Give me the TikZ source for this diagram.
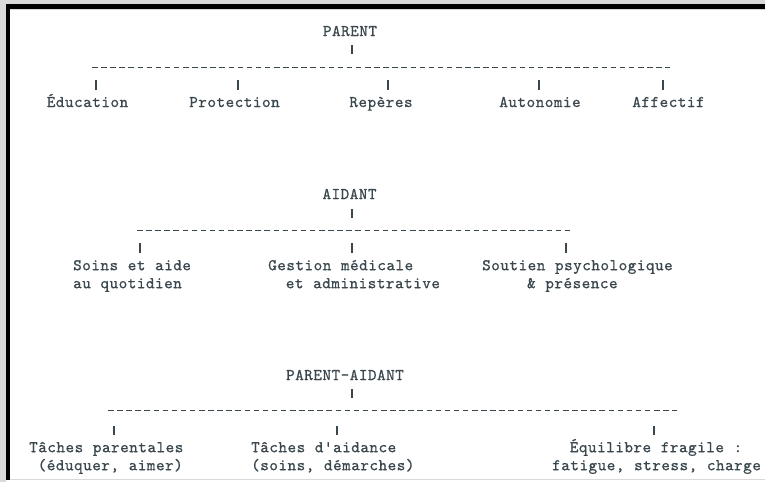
\documentclass[tikz,border=0pt]{standalone}
\usepackage{fontspec}
\newfontfamily\asc{lmmono10-regular.otf}[LetterSpace=3.3,WordSpace=1.063,FakeBold=0.8]
\definecolor{tc}{HTML}{3A474E}
\definecolor{edge}{HTML}{D9D9D9}
\begin{document}
\begin{tikzpicture}[x=1pt,y=1pt,
  lbl/.style={font=\asc\fontsize{16.3}{18}\selectfont, text=tc, inner sep=0pt},
  multi/.style={lbl, align=left, anchor=north west},
  vbar/.style={draw=tc, line width=1.1pt},
  bus/.style={draw=tc, line width=0.9pt, dash pattern=on 5.5pt off 3.6pt}]
\useasboundingbox (0,0) rectangle (765,-482);
% frame
\fill[white] (0,0) rectangle (765,-482);
\fill[edge] (0,0) rectangle (6,-482);
\fill[edge] (0,0) rectangle (765,-4);
\fill[black] (6,-4) rectangle (10,-480);
\fill[black] (6,-4) rectangle (765,-9);
\draw[edge, line width=0.8pt] (10,-9.6) -- (765,-9.6);
\draw[edge, line width=0.8pt] (10,-479) -- (765,-479);

% ---- PARENT ----
\node[lbl, anchor=base] (p) at (350,-36) {PARENT};
\node[lbl, anchor=base] (e1) at (87.5,-107) {Éducation};
\node[lbl, anchor=base] (e2) at (234.5,-107) {Protection};
\node[lbl, anchor=base] (e3) at (381,-107) {Repères};
\node[lbl, anchor=base] (e4) at (540,-107) {Autonomie};
\node[lbl, anchor=base] (e5) at (668.5,-107) {Affectif};
\coordinate (pL) at (92,-67);
\coordinate (pR) at (670,-67);
\draw[vbar] (p.base) ++(2,-9) -- ++(0,-9);
\draw[bus] (pL) -- (pR);
\draw[vbar] (e1.base) ++(8.5,17) -- ++(0,10);
\draw[vbar] (e2.base) ++(3.5,17) -- ++(0,10);
\draw[vbar] (e3.base) ++(7,17) -- ++(0,10);
\draw[vbar] (e4.base) ++(-1,17) -- ++(0,10);
\draw[vbar] (e5.base) ++(-5.5,17) -- ++(0,10);

% ---- AIDANT ----
\node[lbl, anchor=base] (a) at (349.5,-199) {AIDANT};
\node[multi] (s1) at (73,-256) {\rule{0pt}{14pt}Soins et aide\\au quotidien};
\node[multi] (s2) at (268,-256) {\rule{0pt}{14pt}Gestion médicale\\\phantom{xx}et administrative};
\node[multi] (s3) at (482,-256) {\rule{0pt}{14pt}Soutien psychologique\\\phantom{xxxxx}\& présence};
\coordinate (aL) at (137,-230);
\coordinate (aR) at (572,-230);
\draw[vbar] (a.base) ++(2.5,-10) -- ++(0,-9);
\draw[bus] (aL) -- (aR);
\draw[vbar] (s1.north west) ++(67,3) -- ++(0,10);
\draw[vbar] (s2.north west) ++(84,3) -- ++(0,10);
\draw[vbar] (s3.north west) ++(84,3) -- ++(0,10);

% ---- PARENT-AIDANT ----
\node[lbl, anchor=base] (pa) at (345,-380) {PARENT-AIDANT};
\node[multi] (t1) at (29,-438) {\rule{0pt}{14pt}Tâches parentales\\\phantom{x}(éduquer, aimer)};
\node[multi] (t2) at (251,-438) {\rule{0pt}{14pt}Tâches d'aidance\\(soins, démarches)};
\node[multi] (t3) at (552,-438) {\rule{0pt}{14pt}\phantom{xx}Équilibre fragile :\\fatigue, stress, charge};
\coordinate (paL) at (108,-410);
\coordinate (paR) at (677,-410);
\draw[vbar] (pa.base) ++(7,-9) -- ++(0,-9);
\draw[bus] (paL) -- (paR);
\draw[vbar] (t1.north west) ++(85,3) -- ++(0,9);
\draw[vbar] (t2.north west) ++(86,3) -- ++(0,9);
\draw[vbar] (t3.north west) ++(102,3) -- ++(0,9);
\end{tikzpicture}
\end{document}
